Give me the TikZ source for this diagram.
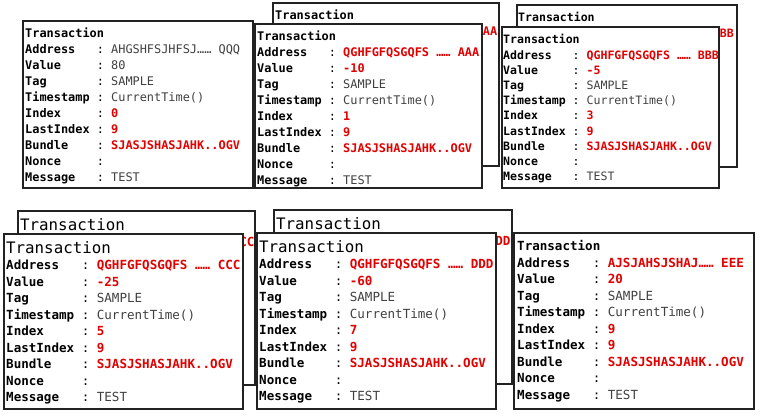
\documentclass[tikz,border=0pt]{standalone}
\usepackage{fontspec}
\setmonofont{DejaVu Sans Mono}
\usepackage{xcolor}
\usepackage{tikz}
\usetikzlibrary{positioning}

\definecolor{hlred}{RGB}{226,0,0}
\definecolor{valgrey}{RGB}{64,64,64}
\definecolor{edgegrey}{RGB}{34,34,34}

\newcommand{\hlv}[1]{\textcolor{hlred}{\bfseries #1}}
\newcommand{\plv}[1]{\textcolor{valgrey}{#1}}
\newcommand{\txhead}{\textbf{Transaction}}
\newcommand{\txbig}{{\fontsize{15.8}{18}\selectfont Transaction}}

% full card: header, address, value, index
\newcommand{\txfull}[4]{%
  \begin{tabular}{@{}l@{\ :\ }l@{}}
    \multicolumn{2}{@{}l@{}}{#1}\\
    \textbf{Address}   & #2\\
    \textbf{Value}     & #3\\
    \textbf{Tag}       & \plv{SAMPLE}\\
    \textbf{Timestamp} & \plv{CurrentTime()}\\
    \textbf{Index}     & \hlv{#4}\\
    \textbf{LastIndex} & \hlv{9}\\
    \textbf{Bundle}    & \hlv{SJASJSHASJAHK..OGV}\\
    \textbf{Nonce}     & \\
    \textbf{Message}   & \plv{TEST}
  \end{tabular}}
% card behind: only what peeks out (label padded to 9 chars)
\newcommand{\txpart}[2]{%
  \begin{tabular}{@{}l@{\ :\ }l@{}}
    \multicolumn{2}{@{}l@{}}{#1}\\
    \textbf{Address\hphantom{mp}} & #2
  \end{tabular}}

\begin{document}
\begin{tikzpicture}[
    x=1pt, y=-1pt,
    cardbox/.style={draw=edgegrey, line width=1.5pt, fill=white, anchor=north west, inner sep=0pt},
    toptext/.style={inner sep=0pt, font=\ttfamily\fontsize{11.9}{16}\selectfont},
    smalltext/.style={inner sep=0pt, font=\ttfamily\fontsize{11.55}{15.2}\selectfont},
    bottext/.style={inner sep=0pt, font=\ttfamily\fontsize{12.55}{16.5}\selectfont},
]
\useasboundingbox (0,0) rectangle (763,415);

% top row
\node [cardbox, minimum width=230pt, minimum height=167pt] (c1) at (22,20) {};
\node [toptext, below right=6pt and 3pt of c1.north west] (c1txt)
  {\txfull{\txhead}{\plv{AHGSHFSJHFSJ…… QQQ}}{\plv{80}}{0}};

\node [cardbox, minimum width=226pt, minimum height=163pt] (c2back) at (272,2) {};
\node [toptext, below right=6pt and 3pt of c2back.north west] (c2backtxt)
  {\txpart{\txhead}{\hlv{QGHFGFQSGQFS …… AAA}}};
\node [cardbox, minimum width=227pt, minimum height=164pt] (c2) at (254,23) {};
\node [toptext, below right=6pt and 3pt of c2.north west] (c2txt)
  {\txfull{\txhead}{\hlv{QGHFGFQSGQFS …… AAA}}{\hlv{-10}}{1}};

\node [cardbox, minimum width=220pt, minimum height=162pt] (c3back) at (516,4) {};
\node [smalltext, below right=7pt and 2pt of c3back.north west] (c3backtxt)
  {\txpart{\txhead}{\hlv{QGHFGFQSGQFS …… BBB}}};
\node [cardbox, minimum width=217pt, minimum height=161pt] (c3) at (501,26) {};
\node [smalltext, below right=7pt and 2pt of c3.north west] (c3txt)
  {\txfull{\txhead}{\hlv{QGHFGFQSGQFS …… BBB}}{\hlv{-5}}{3}};

% bottom row
\node [cardbox, minimum width=237pt, minimum height=174pt] (c4back) at (17,210) {};
\node [bottext, below right=8pt and 3pt of c4back.north west] (c4backtxt)
  {\txpart{\txbig}{\hlv{QGHFGFQSGQFS …… CCC}}};
\node [cardbox, minimum width=239pt, minimum height=175pt] (c4) at (3,233) {};
\node [bottext, below right=8pt and 3pt of c4.north west] (c4txt)
  {\txfull{\txbig}{\hlv{QGHFGFQSGQFS …… CCC}}{\hlv{-25}}{5}};

\node [cardbox, minimum width=238pt, minimum height=174pt] (c5back) at (273,209) {};
\node [bottext, below right=8pt and 3pt of c5back.north west] (c5backtxt)
  {\txpart{\txbig}{\hlv{QGHFGFQSGQFS …… DDD}}};
\node [cardbox, minimum width=239pt, minimum height=176pt] (c5) at (256,232) {};
\node [bottext, below right=8pt and 3pt of c5.north west] (c5txt)
  {\txfull{\txbig}{\hlv{QGHFGFQSGQFS …… DDD}}{\hlv{-60}}{7}};

\node [cardbox, minimum width=240pt, minimum height=176pt] (c6) at (513,232) {};
\node [bottext, below right=7pt and 4pt of c6.north west] (c6txt)
  {\txfull{\txhead}{\hlv{AJSJAHSJSHAJ…… EEE}}{\hlv{20}}{9}};
\end{tikzpicture}
\end{document}
